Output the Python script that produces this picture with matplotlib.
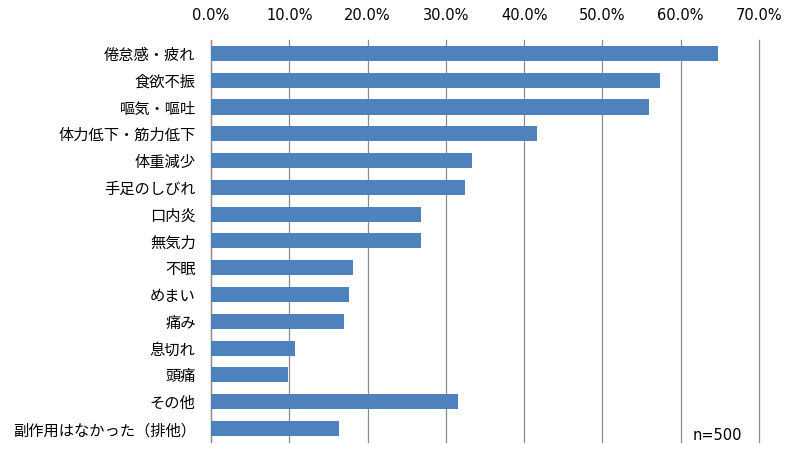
import matplotlib
matplotlib.use("Agg")
import matplotlib.pyplot as plt
from matplotlib.ticker import FuncFormatter

categories = ["倦怠感・疲れ", "食欲不振", "嘔気・嘔吐", "体力低下・筋力低下", "体重減少",
              "手足のしびれ", "口内炎", "無気力", "不眠", "めまい", "痛み", "息切れ",
              "頭痛", "その他", "副作用はなかった（排他）"]
values = [64.8, 57.4, 56.0, 41.6, 33.4, 32.4, 26.8, 26.8, 18.2, 17.6, 17.0, 10.8, 9.8, 31.6, 16.4]
xticks = [0, 10, 20, 30, 40, 50, 60, 70]
note = "n=500"

plt.rcParams['font.family'] = ['Noto Sans CJK JP', 'DejaVu Sans']

fig = plt.figure(figsize=(7.96, 4.53), dpi=100)
ax = fig.add_axes([0.265, 0.0243, 0.6885, 0.8874])

ypos = list(range(len(categories)))
ax.barh(ypos, values, height=0.56, color="#4F81BD", zorder=3)
ax.set_ylim(len(categories) - 0.5, -0.5)
ax.set_xlim(0, 70)
ax.set_yticks(ypos)
ax.set_yticklabels(categories, fontsize=11)
ax.set_xticks(xticks)
ax.xaxis.set_major_formatter(FuncFormatter(lambda v, p: f"{v:.1f}%"))
ax.xaxis.tick_top()
for lab in ax.get_xticklabels():
    lab.set_family('DejaVu Sans')
    lab.set_fontsize(10.5)
ax.tick_params(axis='x', length=0, pad=12, colors='#000000')
ax.tick_params(axis='y', length=0, pad=11)
ax.grid(axis='x', color='#8c8c8c', linewidth=0.9, zorder=0, clip_on=False)
for gl in ax.get_xgridlines():
    gl.set_clip_on(False)
for s in ['top', 'right', 'bottom']:
    ax.spines[s].set_visible(False)
ax.spines['left'].set_color('#8c8c8c')
ax.spines['left'].set_linewidth(0.9)

fig.text(693 / 796, 1 - 436 / 453, note, fontsize=10.5, family='DejaVu Sans', va='center', ha='left')

fig.savefig("out.png", dpi=100)
